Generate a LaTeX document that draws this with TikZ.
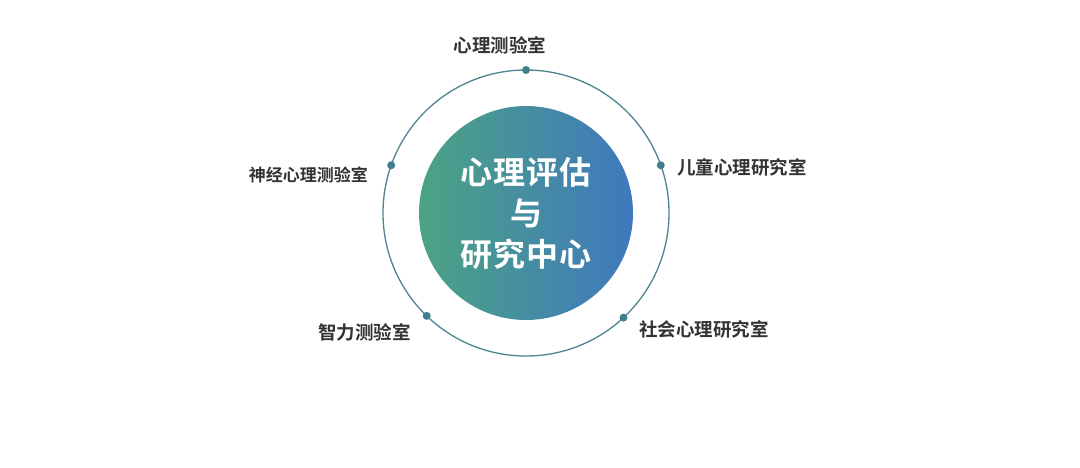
\documentclass[tikz,border=0pt]{standalone}
\usepackage{fontspec}
\setmainfont{Noto Sans CJK SC}[BoldFont={* Bold}]
\usetikzlibrary{calc}
\begin{document}
\begin{tikzpicture}[x=1pt,y=-1pt,
  lab/.style={font=\fontsize{18.5}{20}\selectfont\bfseries, text=labgray, inner sep=0pt},
  dotm/.style={circle, fill=dotc, minimum size=8pt, inner sep=0pt}]
\definecolor{labgray}{HTML}{333333}
\definecolor{ringc}{HTML}{4E8590}
\definecolor{dotc}{HTML}{3F7F8E}
\definecolor{gl}{HTML}{4CA383}
\definecolor{gr}{HTML}{3F78BE}
\useasboundingbox[fill=white] (0,0) rectangle (1080,467);
\coordinate (c) at (526,213);
\draw[ringc, line width=1.3pt] (c) circle (143);
\shade[left color=gl, right color=gr] (c) circle (107);
\node[text=white, align=center, font=\fontsize{32}{41}\selectfont\bfseries, inner sep=0pt] (center) at (526,213)
  {心\kern1pt理\kern1pt评\kern1pt估\\与\\研\kern1pt究\kern1pt中\kern1pt心};
\node[dotm] (d1) at ($(c)+(-90:143)$) {};
\node[dotm] (d2) at ($(c)+(-19.5:143)$) {};
\node[dotm] (d3) at ($(c)+(-160.5:143)$) {};
\node[dotm] (d4) at ($(c)+(-226:143)$) {};
\node[dotm] (d5) at ($(c)+(-313:143)$) {};
\node[lab] (l1) at (500,45) {心理测验室};
\node[lab, anchor=west] (l2) at (677,167) {儿童心理研究室};
\node[lab, anchor=east, font=\fontsize{17}{20}\selectfont\bfseries] (l3) at (368,175) {神经心理测验室};
\node[lab, anchor=east] (l4) at (411,332) {智力测验室};
\node[lab, anchor=west] (l5) at (639,329) {社会心理研究室};
\end{tikzpicture}
\end{document}
